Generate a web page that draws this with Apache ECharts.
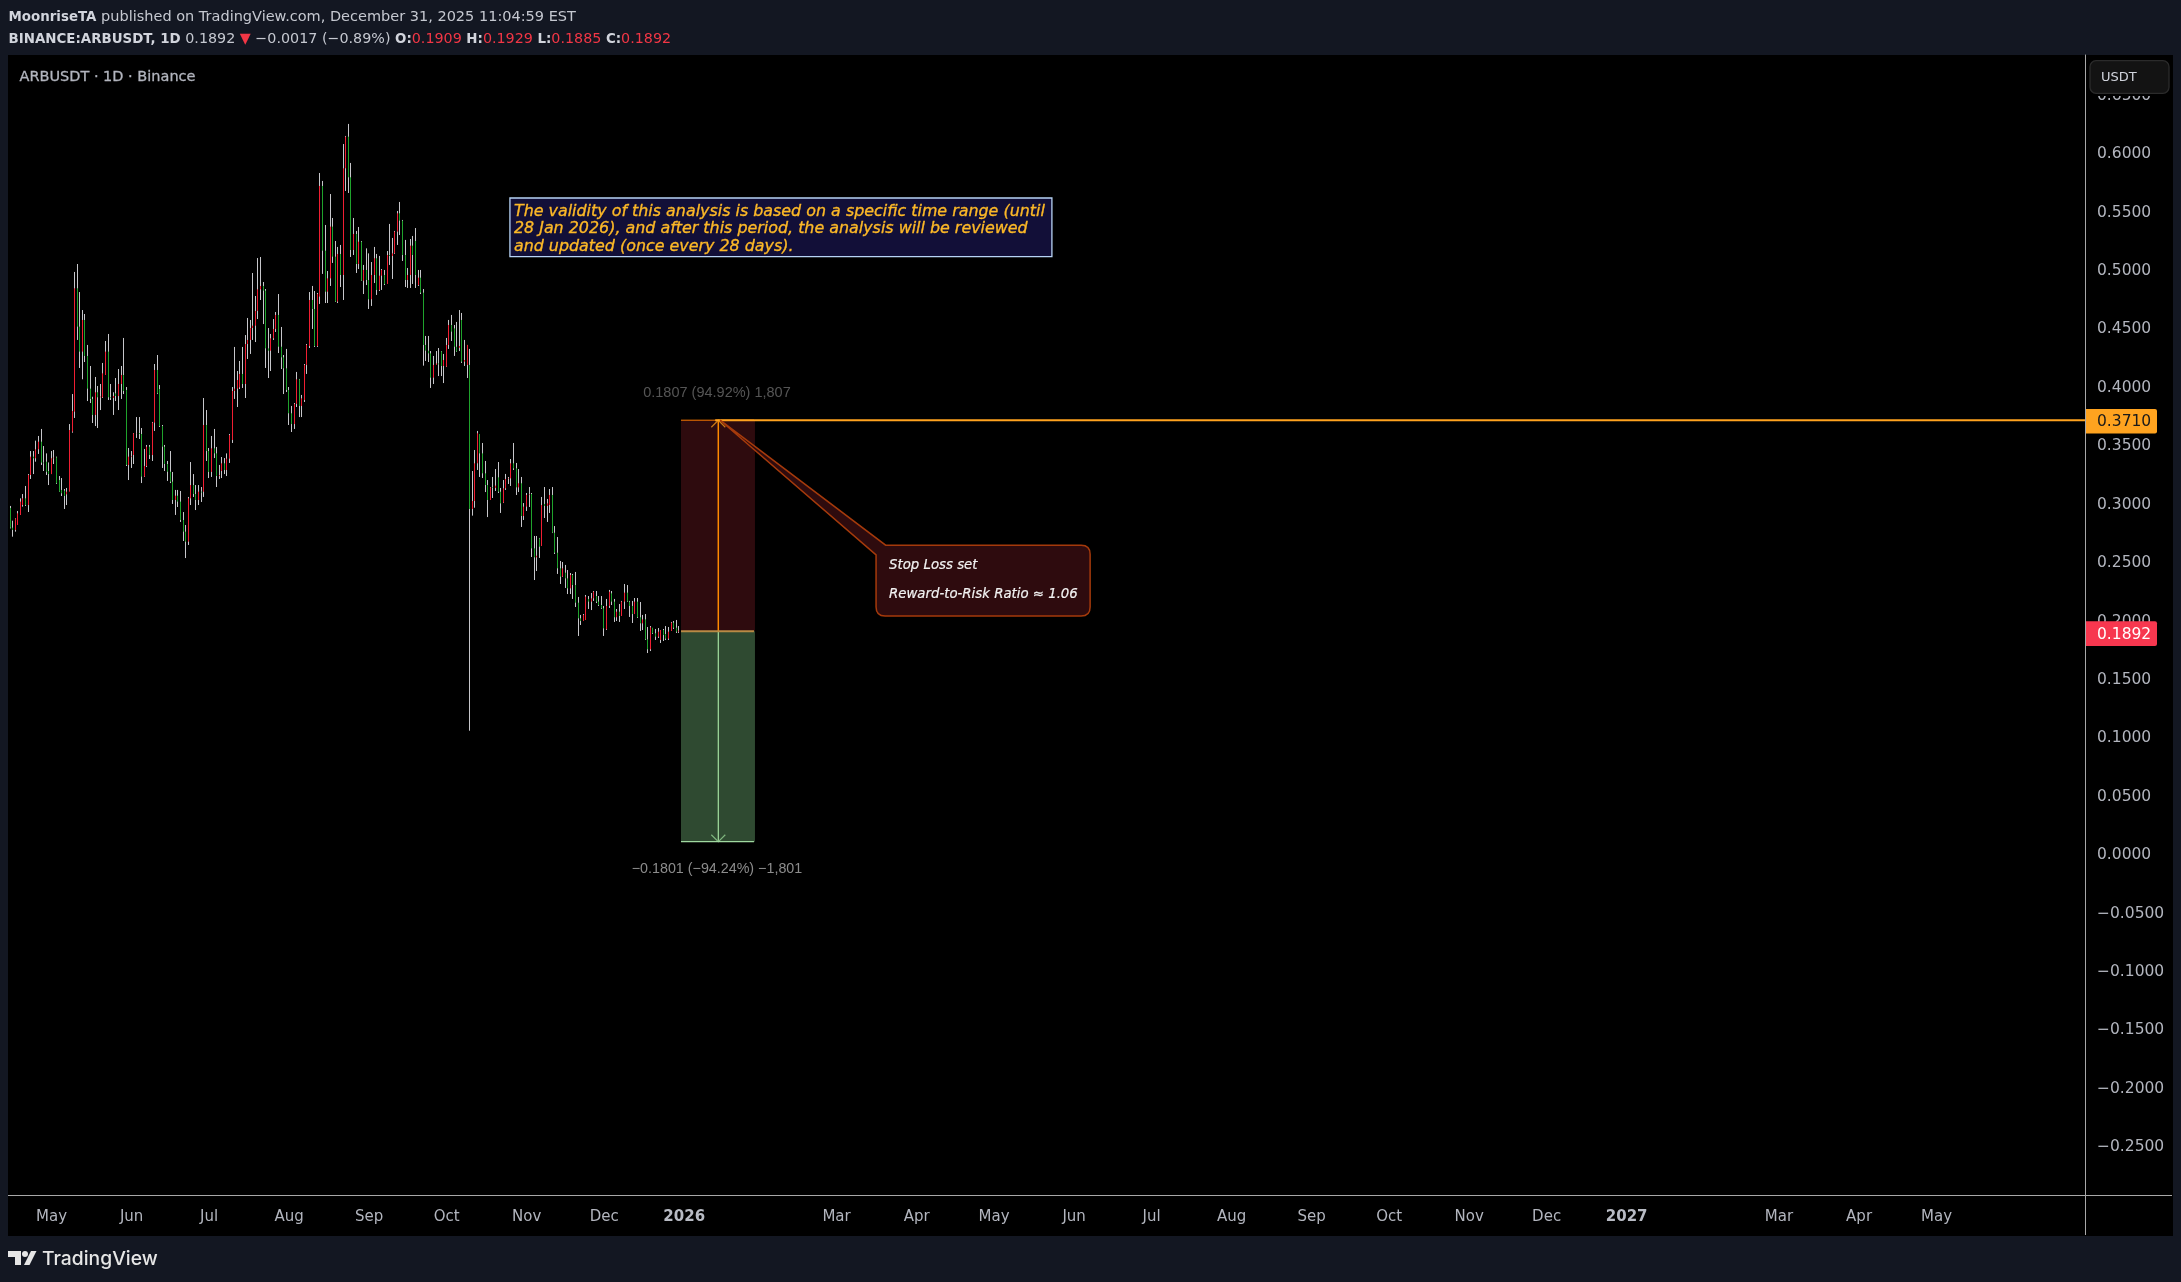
<!DOCTYPE html>
<html><head><meta charset="utf-8"><style>html,body{margin:0;padding:0;background:#131722}#c{width:2181px;height:1282px}</style>
<script src="https://cdn.jsdelivr.net/npm/echarts@6/dist/echarts.min.js"></script></head><body><div id="c"></div>
<script>
const opens=[
.2958,.2790,.2770,.2813,.2899,.2984,.3041,.2984,.3241,.3398,
.3384,.3461,.3526,.3347,.3355,.3275,.3249,.3384,.3392,.3198,
.3113,.3107,.3075,.3098,.3612,.3783,.4839,.4511,.4297,.4568,
.4260,.3980,.3892,.3755,.3949,.3906,.3906,.4097,.4297,.3906,
.3900,.3940,.3917,.4020,.4097,.3969,.3327,.3398,.3412,.3598,
.3600,.3592,.3227,.3318,.3483,.3412,.3689,.4140,.3977,.3660,
.3483,.3335,.3269,.3184,.3027,.3064,.3013,.2856,.2756,.2670,
.3041,.3155,.3078,.3027,.3098,.3098,.3669,.3446,.3267,.3469,
.3426,.3232,.3275,.3341,.3284,.3381,.3541,.3960,.3980,.3991,
.4106,.4020,.4362,.4397,.4499,.4519,.4645,.4830,.4859,.4819,
.4325,.4305,.4411,.4491,.4611,.4339,.4248,.4154,.3969,.3769,
.3677,.3849,.4060,.3832,.3883,.4183,.4345,.4739,.4662,.4345,
.4768,.5715,.5161,.4810,.4924,.5367,.5110,.4725,.5133,.4953,
.5866,.6137,.5789,.5167,.5304,.5047,.5238,.4904,.4996,.4910,
.4745,.4953,.5096,.4825,.4947,.4953,.4876,.5124,.5116,.5138,
.5324,.5481,.5418,.5124,.4910,.4953,.5204,.5244,.4867,.4930,
.4802,.4354,.4305,.4282,.4074,.4183,.4195,.4299,.4174,.4168,
.4354,.4525,.4496,.4339,.4330,.4568,.4211,.4183,.4183,.2950,
.3018,.3341,.3592,.3426,.3255,.3155,.3027,.3135,.3130,.3221,
.3098,.3004,.3127,.3207,.3212,.3341,.3298,.3135,.3170,.2890,
.2970,.3070,.3078,.2613,.2536,.2699,.2633,.2993,.2976,.2984,
.3070,.2747,.2576,.2442,.2371,.2405,.2356,.2271,.2385,.2299,
.2148,.2014,.1991,.2000,.2180,.2157,.2185,.2205,.2157,.2128,
.2100,.1920,.2120,.2228,.2157,.2023,.2071,.2034,.2157,.2234,
.2157,.2120,.2051,.2157,.2023,.1971,.2005,.1834,.1749,.1934,
.1886,.1857,.1829,.1914,.1880,.1840,.1906,.1977,.1934,.1900,.1909];
const highs=[
.2976,.2850,.2870,.2933,.3041,.3078,.3147,.3249,.3446,.3446,
.3535,.3575,.3635,.3489,.3426,.3349,.3446,.3455,.3398,.3232,
.3215,.3121,.3130,.3677,.3934,.4979,.5047,.4807,.4653,.4619,
.4354,.4174,.3911,.4080,.4003,.4020,.4200,.4388,.4448,.4020,
.3949,.4071,.4148,.4174,.4414,.3994,.3472,.3446,.3600,.3737,
.3737,.3643,.3464,.3498,.3498,.3695,.4191,.4268,.4011,.3669,
.3498,.3361,.3446,.3267,.3113,.3113,.3104,.2924,.2813,.3053,
.3352,.3249,.3155,.3155,.3138,.3900,.3797,.3472,.3575,.3635,
.3481,.3327,.3395,.3386,.3426,.3592,.3994,.4337,.4131,.4217,
.4337,.4439,.4585,.4568,.4970,.4773,.5098,.5107,.4893,.4833,
.4499,.4448,.4576,.4636,.4790,.4508,.4268,.4320,.3994,.3832,
.3857,.4123,.4063,.3926,.4191,.4362,.4807,.4859,.4816,.4799,
.5826,.5758,.5381,.4987,.5646,.5441,.5244,.5193,.5210,.6074,
.6143,.6246,.5912,.5441,.5330,.5364,.5244,.5039,.5181,.5138,
.5064,.5193,.5133,.5116,.5004,.4996,.5158,.5390,.5270,.5330,
.5501,.5578,.5424,.5253,.5013,.5261,.5287,.5355,.4996,.4996,
.4833,.4431,.4431,.4302,.4260,.4302,.4328,.4302,.4277,.4414,
.4568,.4611,.4525,.4551,.4653,.4628,.4397,.4354,.4320,.3275,
.3455,.3618,.3592,.3515,.3361,.3198,.3138,.3224,.3292,.3352,
.3130,.3198,.3250,.3224,.3378,.3515,.3344,.3292,.3224,.3001,
.3087,.3138,.3087,.2719,.2719,.2702,.3053,.3138,.3036,.3121,
.3138,.2804,.2710,.2505,.2496,.2471,.2428,.2402,.2394,.2411,
.2197,.2043,.2051,.2214,.2205,.2231,.2248,.2248,.2205,.2205,
.2120,.2180,.2257,.2248,.2180,.2094,.2137,.2163,.2308,.2299,
.2163,.2163,.2188,.2188,.2154,.2043,.2051,.1940,.1948,.1931,
.1923,.1931,.1914,.1923,.1948,.1940,.1983,.1991,.2000,.1948,.1929];
const lows=[
.2784,.2713,.2756,.2813,.2899,.2970,.2976,.2924,.3207,.3249,
.3355,.3421,.3327,.3275,.3241,.3155,.3249,.3335,.3164,.3098,
.3061,.2950,.2984,.3107,.3603,.3729,.4397,.4157,.4060,.4208,
.3874,.3857,.3686,.3660,.3643,.3797,.3900,.4097,.3883,.3883,
.3755,.3874,.3797,.3892,.3934,.3318,.3198,.3301,.3335,.3558,
.3549,.3172,.3224,.3309,.3378,.3361,.3618,.3934,.3652,.3301,
.3275,.3190,.3172,.2993,.2899,.2967,.2839,.2676,.2530,.2642,
.2984,.3053,.2941,.2984,.3010,.3053,.3361,.3215,.3224,.3386,
.3138,.3207,.3215,.3249,.3232,.3344,.3515,.3892,.3823,.3977,
.3986,.3900,.4234,.4277,.4397,.4379,.4576,.4739,.4533,.4157,
.4071,.4131,.4397,.4465,.4285,.4148,.3934,.3951,.3669,.3609,
.3635,.3823,.3737,.3737,.3866,.4106,.4328,.4491,.4337,.4337,
.4705,.4962,.4713,.4713,.4859,.5056,.4722,.4713,.4850,.4739,
.5672,.5655,.5107,.5124,.4970,.5004,.4902,.4790,.4867,.4662,
.4688,.4884,.4782,.4816,.4825,.4867,.4910,.5039,.4919,.5133,
.5210,.5295,.5073,.4850,.4842,.4842,.4876,.4842,.4859,.4790,
.4177,.4217,.4208,.3986,.4020,.4183,.4088,.4088,.4028,.4165,
.4320,.4388,.4260,.4294,.4302,.4200,.4174,.4071,.1052,.2893,
.2961,.3284,.3224,.3215,.3095,.2881,.3027,.3044,.3104,.3087,
.2916,.3001,.3113,.3164,.3147,.3284,.3070,.3095,.2796,.2856,
.2933,.2967,.2539,.2342,.2419,.2531,.2633,.2873,.2839,.2916,
.2744,.2565,.2394,.2308,.2368,.2274,.2222,.2222,.2180,.2111,
.1863,.1957,.1991,.2000,.2094,.2085,.2163,.2145,.2120,.2094,
.1863,.1914,.2103,.2128,.1983,.1991,.1983,.2034,.2094,.2154,
.2026,.1974,.2051,.2017,.1906,.1914,.1829,.1717,.1734,.1880,
.1829,.1846,.1803,.1820,.1829,.1829,.1906,.1923,.1889,.1889,.1885];
const closes=[
.2790,.2770,.2868,.2913,.3013,.3041,.2984,.3241,.3398,.3384,
.3461,.3526,.3347,.3341,.3269,.3249,.3384,.3389,.3170,.3098,
.3084,.3061,.3098,.3626,.3789,.4839,.4511,.4297,.4568,.4260,
.3980,.3892,.3755,.3949,.3906,.3912,.4111,.4297,.3906,.3900,
.3917,.3917,.4020,.4097,.3960,.3327,.3398,.3404,.3598,.3600,
.3592,.3227,.3318,.3483,.3412,.3689,.4140,.3940,.3660,.3483,
.3335,.3269,.3184,.3027,.3064,.3013,.2856,.2756,.2670,.3041,
.3155,.3078,.3027,.3098,.3092,.3669,.3446,.3267,.3469,.3426,
.3232,.3240,.3341,.3284,.3381,.3583,.3960,.3980,.4054,.4106,
.4020,.4362,.4397,.4499,.4519,.4645,.4830,.4859,.4819,.4325,
.4305,.4411,.4491,.4611,.4339,.4248,.4154,.3969,.3769,.3677,
.3849,.4060,.3832,.3897,.4183,.4354,.4739,.4662,.4345,.4790,
.5715,.5161,.4810,.4924,.5367,.5110,.4725,.5133,.4953,.5866,
.6137,.5789,.5167,.5304,.5047,.5238,.4904,.4996,.4910,.4745,
.4953,.5096,.4825,.4947,.4996,.4876,.5124,.5116,.5138,.5324,
.5481,.5418,.5124,.4910,.4953,.5204,.5124,.4953,.4930,.4802,
.4354,.4305,.4282,.4074,.4183,.4195,.4188,.4174,.4225,.4354,
.4525,.4468,.4339,.4297,.4345,.4211,.4225,.4354,.2950,.3018,
.3341,.3598,.3426,.3255,.3155,.3027,.3135,.3130,.3150,.3098,
.2998,.3127,.3207,.3212,.3341,.3298,.3135,.3170,.2890,.2970,
.3070,.3075,.2613,.2536,.2550,.2627,.2984,.2976,.2998,.3070,
.2747,.2576,.2442,.2371,.2442,.2356,.2271,.2385,.2299,.2148,
.2014,.1991,.2043,.2200,.2157,.2185,.2242,.2157,.2128,.2100,
.1928,.2120,.2242,.2157,.2023,.2071,.2034,.2157,.2234,.2157,
.2120,.2051,.2157,.2023,.1971,.2005,.1834,.1749,.1937,.1886,
.1857,.1900,.1914,.1871,.1840,.1900,.1977,.1934,.1900,.1909,.1892];

const monthTicks={'2025-05-01':'May','2025-06-01':'Jun','2025-07-01':'Jul','2025-08-01':'Aug','2025-09-01':'Sep','2025-10-01':'Oct','2025-11-01':'Nov','2025-12-01':'Dec','2026-01-01':'2026','2026-03-01':'Mar','2026-04-01':'Apr','2026-05-01':'May','2026-06-01':'Jun','2026-07-01':'Jul','2026-08-01':'Aug','2026-09-01':'Sep','2026-10-01':'Oct','2026-11-01':'Nov','2026-12-01':'Dec','2027-01-01':'2027','2027-03-01':'Mar','2027-04-01':'Apr','2027-05-01':'May'};
const priceTicks=[-0.25,-0.2,-0.15,-0.1,-0.05,0,0.05,0.1,0.15,0.2,0.25,0.3,0.35,0.4,0.45,0.5,0.55,0.6,0.65];
const stopLevel=0.3710, entryLevel=0.1903, targetLevel=0.0102, lastPrice=0.1892;
const toolStart=259.75, toolEnd=288.4, toolMid=274.2;

const categories=[];
{const t0=Date.UTC(2025,3,15);for(let i=0;i<804;i++)categories.push(new Date(t0+i*864e5).toISOString().slice(0,10));}

const FONT='"DejaVu Sans"';
const GL=9,GT=55,GR=2085,GB=1195,OUTL=8,OUTR=2173,OUTB=1236;
const AXC='#b2b5be', LINEC='#a8a8a8';

function annotations(params,api){
  const P=(i,v)=>{const f=Math.floor(i),a=api.coord([f,v]),b=api.coord([f+1,v]);return [a[0]+(b[0]-a[0])*(i-f),a[1]];};
  const ch=[];
  const rect=(a,b,fill)=>ch.push({type:'rect',shape:{x:a[0],y:a[1],width:b[0]-a[0],height:b[1]-a[1]},style:{fill}});
  const line=(a,b,stroke,w)=>ch.push({type:'line',shape:{x1:a[0],y1:a[1],x2:b[0],y2:b[1]},style:{stroke,lineWidth:w}});
  const poly=(pts,stroke,w)=>ch.push({type:'polyline',shape:{points:pts},style:{stroke,lineWidth:w,fill:null}});
  const txt=(x,y,text,st)=>ch.push({type:'text',x,y,style:Object.assign({text,x:0,y:0,fontFamily:FONT,verticalAlign:'middle',align:'left'},st)});
  const ts=P(toolStart,stopLevel),te=P(toolEnd,entryLevel),tg=P(toolEnd,targetLevel),es=P(toolStart,entryLevel);
  rect(ts,te,'#2e0b0e');
  rect(es,tg,'#2f4a31');
  const ms=P(toolMid,stopLevel),me=P(toolMid,entryLevel),mg=P(toolMid,targetLevel);
  line([ms[0],ms[1]],[ms[0],me[1]],'#ff8a00',1.5);
  poly([[ms[0]-7,ms[1]+7],[ms[0],ms[1]],[ms[0]+7,ms[1]+7]],'#c97716',1.2);
  line([mg[0],me[1]],[mg[0],mg[1]],'#a5e0a0',1.2);
  poly([[mg[0]-7,mg[1]-7],[mg[0],mg[1]],[mg[0]+7,mg[1]-7]],'#7fb57e',1.2);
  line(ts,[te[0]-1,ts[1]],'#ff7a00',1);
  line(es,[te[0]-1,es[1]],'#b98a45',2);
  line([es[0],tg[1]],[te[0]-1,tg[1]],'#9fd89f',1.2);
  ch.push({type:'text',x:(ts[0]+te[0])/2-1,y:ts[1]-27.5,style:{text:'0.1807 (94.92%) 1,807',x:0,y:0,fontFamily:'"Liberation Sans"',fontSize:14.5,fill:'#555555',align:'center',verticalAlign:'middle'}});
  ch.push({type:'text',x:(ts[0]+te[0])/2-1,y:tg[1]+27.5,style:{text:'\u22120.1801 (\u221294.24%) \u22121,801',x:0,y:0,fontFamily:'"Liberation Sans"',fontSize:14.3,fill:'#8c8c8c',align:'center',verticalAlign:'middle'}});
  const sl=P(toolMid-1.2,stopLevel);
  line([sl[0],sl[1]],[GR,sl[1]],'#ffa31f',2);
  // callout
  const tip=P(274.9,stopLevel),b1=P(339,0.2640),b2=P(335.3,0.2557),a=P(335.3,0.2640),z=P(418.2,0.2035);
  const r=9;
  const cx0=a[0],cy0=a[1],cx1=z[0],cy1=z[1];
  ch.push({type:'path',shape:{pathData:`M${tip[0]} ${tip[1]}L${b1[0]} ${b1[1]}L${cx1-r} ${cy0}Q${cx1} ${cy0} ${cx1} ${cy0+r}L${cx1} ${cy1-r}Q${cx1} ${cy1} ${cx1-r} ${cy1}L${cx0+r} ${cy1}Q${cx0} ${cy1} ${cx0} ${cy1-r}L${b2[0]} ${b2[1]}Z`},style:{fill:'#2e0b0e',stroke:'#a53a0b',lineWidth:1.5}});
  const ci={fontStyle:'italic',fontSize:13.3,fill:'#f2f2f2',stroke:'#f2f2f2',lineWidth:0.2};
  txt(cx0+13,cy0+20,'Stop Loss set',ci);
  txt(cx0+13,cy0+49.5,'Reward-to-Risk Ratio \u2248 1.06',ci);
  // note box
  const n0=P(193.5,0.5612),n1=P(403.4,0.5110);
  ch.push({type:'rect',shape:{x:n0[0],y:n0[1],width:n1[0]-n0[0],height:n1[1]-n0[1]},style:{fill:'#120f38',stroke:'#b7d3f5',lineWidth:1.3}});
  const ni={fontStyle:'italic',fontSize:15.9,fill:'#fcb827',stroke:'#fcb827',lineWidth:0.35};
  txt(n0[0]+4,n0[1]+13.5,'The validity of this analysis is based on a specific time range (until',ni);
  txt(n0[0]+4,n0[1]+31,'28 Jan 2026), and after this period, the analysis will be reviewed',ni);
  txt(n0[0]+4,n0[1]+48.5,'and updated (once every 28 days).',ni);
  // price tags
  const tag=(v,fill,col,w)=>{const y=P(0,v)[1]+1;
    ch.push({type:'rect',shape:{x:GR,y:y-12.3,width:72,height:24.6,r:[0,2,2,0]},style:{fill}});
    txt(GR+12,y+1,v.toFixed(4),{fontSize:15.5,fill:col,fontWeight:w});};
  tag(stopLevel,'#ffa31f','#1a1a1a',400);
  tag(lastPrice,'#f7374f','#ffffff',500);
  return {type:'group',children:ch};
}

const wickData=opens.map((o,i)=>[o,closes[i],lows[i],highs[i]]);
const bodyData=opens.map((o,i)=>[o,closes[i],Math.min(o,closes[i]),Math.max(o,closes[i])]);

const chart=echarts.init(document.getElementById('c'),null,{renderer:'canvas',width:2181,height:1282});
chart.setOption({
  animation:false,backgroundColor:'#131722',
  grid:{left:GL,top:GT,right:2181-GR,bottom:1282-GB,containLabel:false},
  xAxis:{type:'category',data:categories,boundaryGap:true,
    axisLine:{onZero:false,lineStyle:{color:LINEC,width:1}},axisTick:{show:false},splitLine:{show:false},
    axisLabel:{margin:15,color:AXC,fontFamily:FONT,fontSize:15,hideOverlap:false,
      interval:(i,v)=>monthTicks[v]!==undefined,
      formatter:v=>{const s=monthTicks[v]||'';return /^20/.test(s)?'{b|'+s+'}':s;},
      rich:{b:{fontFamily:FONT,fontSize:15,fontWeight:'bold',color:'#b8bbc4'}}}},
  yAxis:{type:'value',position:'right',min:-0.2922,max:0.6836,scale:true,
    axisLine:{show:true,lineStyle:{color:LINEC,width:1}},axisTick:{show:false},splitLine:{show:false},
    axisLabel:{margin:12,color:AXC,fontFamily:FONT,fontSize:15.5,customValues:priceTicks,verticalAlign:'top',lineHeight:3,
      showMinLabel:true,showMaxLabel:true,
      formatter:v=>v.toFixed(4).replace('-','\u2212')}},
  graphic:[
    {type:'rect',z:-10,silent:true,shape:{x:OUTL,y:GT,width:OUTR-OUTL,height:OUTB-GT},style:{fill:'#000000'}},
    {type:'line',z:50,silent:true,shape:{x1:GR+.5,y1:GB,x2:GR+.5,y2:OUTB-1},style:{stroke:LINEC,lineWidth:1}},
    {type:'line',z:50,silent:true,shape:{x1:OUTL,y1:GB+.5,x2:OUTR-1,y2:GB+.5},style:{stroke:LINEC,lineWidth:1}},
    {type:'line',z:50,silent:true,shape:{x1:GR+.5,y1:GT,x2:GR+.5,y2:GB},style:{stroke:LINEC,lineWidth:1}},
    {type:'rect',z:60,silent:true,shape:{x:GR+1,y:GT,width:OUTR-GR-1,height:41},style:{fill:'#000000'}},
    {type:'rect',z:61,silent:true,shape:{x:2090,y:60.7,width:79,height:32.6,r:6},style:{fill:'#131313',stroke:'#2b2b2b',lineWidth:1.3}},
    {type:'text',z:62,silent:true,x:2101,y:77.5,style:{text:'USDT',fontFamily:FONT,fontSize:13,fill:'#d1d4dc',verticalAlign:'middle'}},
    {type:'text',z:62,silent:true,x:19.5,y:77.6,style:{text:'ARBUSDT \u00b7 1D \u00b7 Binance',fontFamily:FONT,fontSize:14.5,fill:'#b2b5be',stroke:'#b2b5be',lineWidth:0.3,verticalAlign:'middle'}},
    {type:'text',z:62,silent:true,x:8.5,y:17.7,style:{text:'{b|MoonriseTA} published on TradingView.com, December 31, 2025 11:04:59 EST',fontFamily:FONT,fontSize:14.5,fill:'#c5c8d0',verticalAlign:'middle',
      rich:{b:{fontFamily:FONT,fontSize:13.4,fontWeight:'bold',fill:'#d1d4dc'}}}},
    {type:'text',z:62,silent:true,x:8.5,y:39.7,style:{text:'{b|BINANCE:ARBUSDT, 1D} 0.1892 {r|\u25bc} \u22120.0017 (\u22120.89%) {b|O:}{r|0.1909} {b|H:}{r|0.1929} {b|L:}{r|0.1885} {b|C:}{r|0.1892}',fontFamily:FONT,fontSize:14.3,fill:'#c5c8d0',verticalAlign:'middle',
      rich:{b:{fontFamily:FONT,fontSize:13.4,fontWeight:'bold',fill:'#d1d4dc'},r:{fontFamily:FONT,fontSize:14.3,fill:'#f23645'}}}},
    {type:'polygon',z:62,silent:true,shape:{points:[[8,1251],[21,1251],[21,1265],[15,1265],[15,1257],[8,1257]]},style:{fill:'#e6e6e6'}},
    {type:'circle',z:62,silent:true,shape:{cx:25,cy:1254,r:3},style:{fill:'#e6e6e6'}},
    {type:'polygon',z:62,silent:true,shape:{points:[[31,1251],[36.5,1251],[29.5,1265],[24,1265]]},style:{fill:'#e6e6e6'}},
    {type:'text',z:62,silent:true,x:42,y:1259,style:{text:'TradingView',fontFamily:'Inter',fontSize:19.3,fontWeight:500,fill:'#e6e6e6',verticalAlign:'middle'}}
  ],
  series:[
    {name:'ARBUSDT wicks',type:'candlestick',z:3,data:wickData,barWidth:1,silent:true,
     itemStyle:{color:'#c6c6ca',color0:'#c6c6ca',borderColor:'#c6c6ca',borderColor0:'#c6c6ca',borderColorDoji:'#c6c6ca',borderWidth:1}},
    {name:'ARBUSDT bodies',type:'candlestick',z:4,data:bodyData,barWidth:1,silent:true,
     itemStyle:{color:'#f01e32',color0:'#1fa32c',borderColor:'#f01e32',borderColor0:'#1fa32c',borderColorDoji:'#c6c6ca',borderWidth:1}},
    {name:'Annotations',type:'custom',z:5,coordinateSystem:'cartesian2d',clip:false,silent:true,data:[[toolStart,stopLevel]],renderItem:annotations,encode:{x:0,y:1}}
  ]
});
</script></body></html>
